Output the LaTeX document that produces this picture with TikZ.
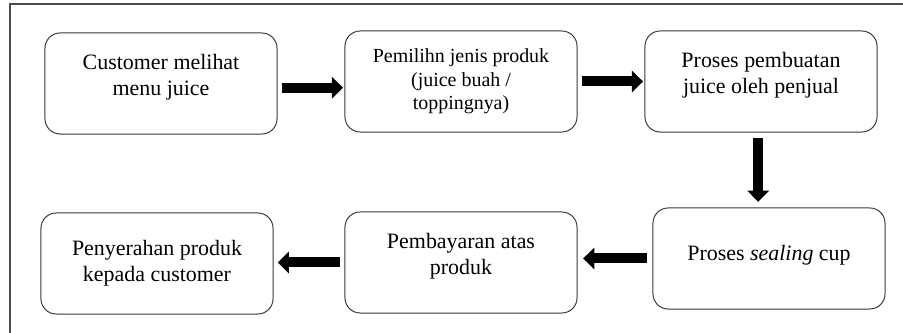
\documentclass[tikz,border=0pt]{standalone}
\usepackage{fontspec}
\setmainfont{Liberation Serif}
\usetikzlibrary{arrows.meta}

\begin{document}
\begin{tikzpicture}[x=0.025cm,y=-0.025cm,
  tahap/.style={draw=black!78,line width=0.7pt,rounded corners=0.38cm,
    minimum width=5.8cm,minimum height=2.525cm,inner sep=0pt,align=center,
    font=\fontsize{15.6pt}{18.5pt}\selectfont},
  naik/.style={text depth=#1},
  panah/.style={line width=0.25cm,-{Triangle[length=0.28cm,width=0.53cm]}}]
\useasboundingbox (0,0) rectangle (903,333);
\draw[black!70,line width=0.8pt] (10,333) -- (10,4) -- (903,4);
\node[tahap,naik=0.45cm] (lihat) at (161,83.5) {Customer melihat\\menu juice};
\node[tahap,font=\fontsize{14.2pt}{16.6pt}\selectfont] (pilih) at (461,81.5) {Pemilihn jenis produk\\(juice buah /\\toppingnya)};
\node[tahap,naik=0.45cm] (buat) at (761,81.5) {Proses pembuatan\\juice oleh penjual};
\node[tahap,naik=0.3cm] (segel) at (769,258.5) {Proses \textit{sealing} cup};
\node[tahap,naik=0.45cm] (bayar) at (461,262.5) {Pembayaran atas\\produk};
\node[tahap] (serah) at (157,263.5) {Penyerahan produk\\kepada customer};
\draw[panah,shorten <=3pt,shorten >=1pt] ([yshift=-3pt]lihat.east) -- ([yshift=-3pt]lihat.east -| pilih.west);
\draw[panah,shorten <=3pt,shorten >=1pt] (pilih.east) -- (pilih.east -| buat.west);
\draw[panah,shorten <=4pt,shorten >=4pt] ([xshift=-2pt]buat.south) -- ([xshift=-2pt]buat.south |- segel.north);
\draw[panah,shorten <=4pt,shorten >=4pt] (segel.west) -- (segel.west -| bayar.east);
\draw[panah,shorten <=3pt,shorten >=3pt] (bayar.west) -- (bayar.west -| serah.east);
\end{tikzpicture}
\end{document}
